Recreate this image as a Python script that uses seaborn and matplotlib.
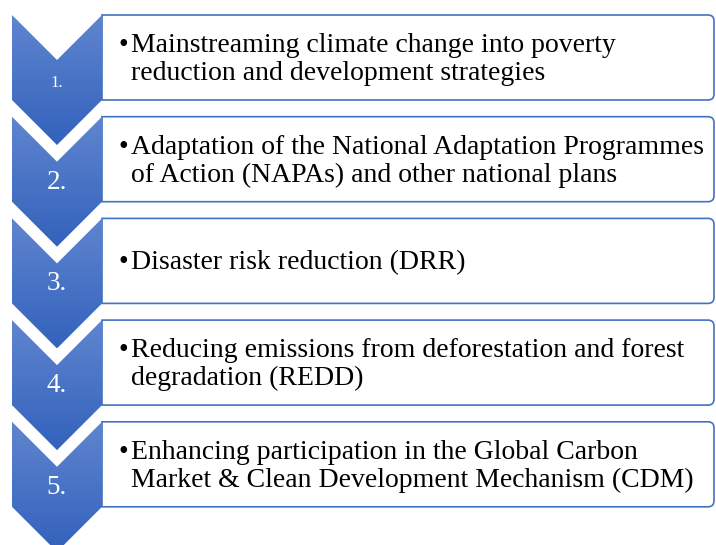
"""
Vertical chevron list: climate change priority areas
"""

import matplotlib.pyplot as plt
import numpy as np
import seaborn as sns
from matplotlib.patches import PathPatch, Polygon
from matplotlib.path import Path

STEP_LABELS = ["1.", "2.", "3.", "4.", "5."]
STEP_LABEL_SIZES = [12, 19.5, 19.5, 19.5, 19.5]
STEP_TEXT = [
    ["Mainstreaming climate change into poverty", "reduction and development strategies"],
    ["Adaptation of the National Adaptation Programmes", "of Action (NAPAs) and other national plans"],
    ["Disaster risk reduction (DRR)"],
    ["Reducing emissions from deforestation and forest", "degradation (REDD)"],
    ["Enhancing participation in the Global Carbon", "Market & Clean Development Mechanism (CDM)"],
]

W, H = 716, 545
TOP0 = 15
ROW_STEP = 101.7
CHEV_X0, CHEV_X1 = 12, 102
SIDE_H = 85
NOTCH = 45
BOX_X1 = 714
RADIUS = 6
BLUE = "#4472c4"
TEXT_SIZE = 20
SERIF = ["Liberation Serif", "DejaVu Serif"]


def chevron(ax, y0, grad):
    xc = (CHEV_X0 + CHEV_X1) / 2
    pts = [
        (CHEV_X0, y0), (xc, y0 + NOTCH), (CHEV_X1, y0),
        (CHEV_X1, y0 + SIDE_H), (xc, y0 + SIDE_H + NOTCH), (CHEV_X0, y0 + SIDE_H),
    ]
    poly = Polygon(pts, closed=True, facecolor="none", edgecolor="none")
    ax.add_patch(poly)
    im = ax.imshow(
        grad,
        extent=(CHEV_X0, CHEV_X1, y0 + SIDE_H + NOTCH, y0),
        aspect="auto",
        interpolation="bilinear",
        zorder=2,
    )
    im.set_clip_path(poly)


def text_box(ax, y0):
    x0, x1, y1 = CHEV_X1, BOX_X1, y0 + SIDE_H
    r = RADIUS
    verts = [
        (x0, y0), (x1 - r, y0), (x1, y0), (x1, y0 + r),
        (x1, y1 - r), (x1, y1), (x1 - r, y1), (x0, y1), (x0, y0),
    ]
    codes = [
        Path.MOVETO, Path.LINETO, Path.CURVE3, Path.CURVE3,
        Path.LINETO, Path.CURVE3, Path.CURVE3, Path.LINETO, Path.CLOSEPOLY,
    ]
    ax.add_patch(
        PathPatch(Path(verts, codes), facecolor="white", edgecolor=BLUE, lw=1.2, zorder=1)
    )


def main():
    sns.set_style("white")
    plt.rcParams["font.family"] = SERIF

    fig = plt.figure(figsize=(W / 100, H / 100), dpi=100)
    ax = fig.add_axes([0, 0, 1, 1])
    ax.set_xlim(0, W)
    ax.set_ylim(H, 0)
    ax.axis("off")

    top = np.array([0x5f, 0x85, 0xcf]) / 255
    bottom = np.array([0x33, 0x62, 0xbc]) / 255
    t = np.linspace(0, 1, 200)[:, None, None]
    grad = top + (bottom - top) * t
    grad = np.repeat(grad, 2, axis=1)

    xc = (CHEV_X0 + CHEV_X1) / 2
    for i, (label, lines) in enumerate(zip(STEP_LABELS, STEP_TEXT)):
        y0 = TOP0 + i * ROW_STEP
        text_box(ax, y0)
        chevron(ax, y0, grad)
        ax.text(xc, y0 + 72, label, color="white", fontsize=STEP_LABEL_SIZES[i],
                ha="center", va="baseline", zorder=3)

        if len(lines) == 1:
            baselines = [y0 + 51]
        else:
            baselines = [y0 + 37, y0 + 65]
        ax.text(118, baselines[0], "\u2022", fontsize=TEXT_SIZE, ha="left",
                va="baseline", color="black", zorder=3)
        for yb, line in zip(baselines, lines):
            ax.text(131, yb, line, fontsize=TEXT_SIZE, ha="left", va="baseline",
                    color="black", zorder=3)

    fig.savefig("out.png", dpi=100)


if __name__ == "__main__":
    main()
